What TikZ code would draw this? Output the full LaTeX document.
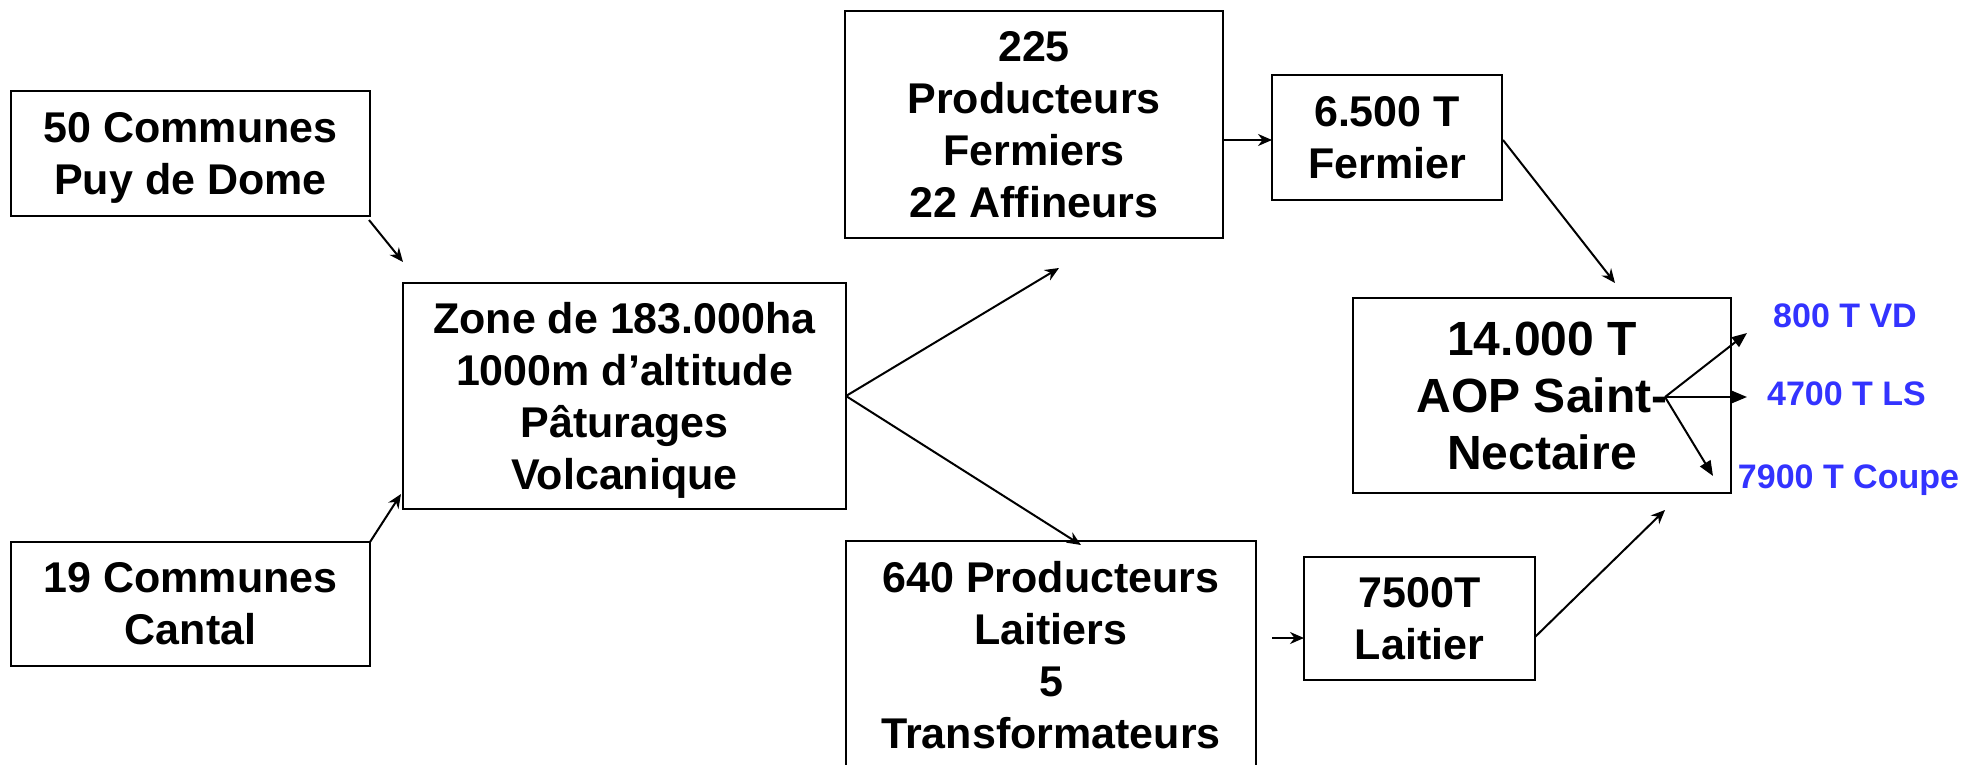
\documentclass[tikz,border=0pt]{standalone}
\usepackage{fontspec}
\setmainfont{Liberation Sans}
\usetikzlibrary{arrows.meta,calc}
\definecolor{lblblue}{RGB}{51,51,255}
\begin{document}
\begin{tikzpicture}[x=1pt,y=-1pt,
  box/.style={draw,line width=2.5pt,inner sep=0pt,outer sep=0pt,align=center,
    font=\bfseries\fontsize{43}{52}\selectfont},
  bigbox/.style={box,font=\bfseries\fontsize{48}{57}\selectfont},
  flow/.style={line width=2pt,-{Stealth[length=14pt,width=12pt]}},
  fanarrow/.style={line width=2pt,-{Triangle[length=15pt,width=12pt]}},
  outlabel/.style={text=lblblue,font=\bfseries\fontsize{34}{40}\selectfont,
    inner sep=0pt,anchor=base}]
\useasboundingbox (0,0) rectangle (1981,765);
\fill[white] (0,0) rectangle (1981,765);

% boxes
\node[box,minimum width=359pt,minimum height=125pt] (A) at (190.5,153.5)
  {50 Communes\\\raisebox{0pt}[\height][0pt]{Puy de Dome}};
\node[box,minimum width=359pt,minimum height=124pt] (B) at (190.5,604)
  {19 Communes\\Cantal};
\node[box,minimum width=443pt,minimum height=226pt] (Zone) at (624.5,396)
  {Zone de 183.000ha\\1000m d’altitude\\Pâturages\\\raisebox{0pt}[\height][0pt]{Volcanique}};
\node[box,minimum width=378pt,minimum height=227pt] (P225) at (1034,124.5)
  {225\\Producteurs\\Fermiers\\22 Affineurs};
\node[box,minimum width=230pt,minimum height=125pt] (F65) at (1387,137.5)
  {6.500 T\\Fermier};
\node[box,minimum width=410pt,minimum height=228pt] (P640) at (1051,655)
  {640 Producteurs\\Laitiers\\5\\Transformateurs};
\node[box,minimum width=231pt,minimum height=123pt] (L75) at (1419.5,618.5)
  {7500T\\Laitier};
\node[bigbox,minimum width=378pt,minimum height=195pt] (T14) at (1542,395.5)
  {14.000 T\\AOP Saint-\\Nectaire};

% output labels
\node[outlabel] (VD) at (1845,327) {800 T VD};
\node[outlabel] (LS) at (1846.5,405) {4700 T LS};
\node[outlabel] (CP) at (1848.5,488) {7900 T Coupe};

% flow arrows
\draw[flow] ($(A.south east)+(-1,4)$) -- ($(Zone.north west)+(0,-21)$);
\draw[flow] (B.north east) -- ($(Zone.south west)+(-2,-15)$);
\draw[flow] (Zone.east) -- ($(P225.south)+(25,30)$);
\draw[flow] (Zone.east) -- ($(P640.north)+(30,4)$);
\draw[flow] ($(P225.east)+(0,15.5)$) -- ($(F65.west)+(0,2.5)$);
\draw[flow] ($(P640.east)+(16,-17)$) -- ($(L75.west)+(0,19.5)$);
\draw[flow] ($(F65.east)+(1,2.5)$) -- ($(T14.north)+(73,-15)$);
\draw[flow] ($(L75.east)+(0,18.5)$) -- ($(T14.south)+(123,17)$);

% split arrows
\coordinate (fan) at ($(T14.center)+(123,1.5)$);
\draw[fanarrow] (fan) -- ($(VD.base)+(-98,6)$);
\draw[fanarrow] (fan) -- ($(LS.base)+(-99.5,-8)$);
\draw[fanarrow] (fan) -- ($(CP.base)+(-135.5,-12)$);
\end{tikzpicture}
\end{document}
